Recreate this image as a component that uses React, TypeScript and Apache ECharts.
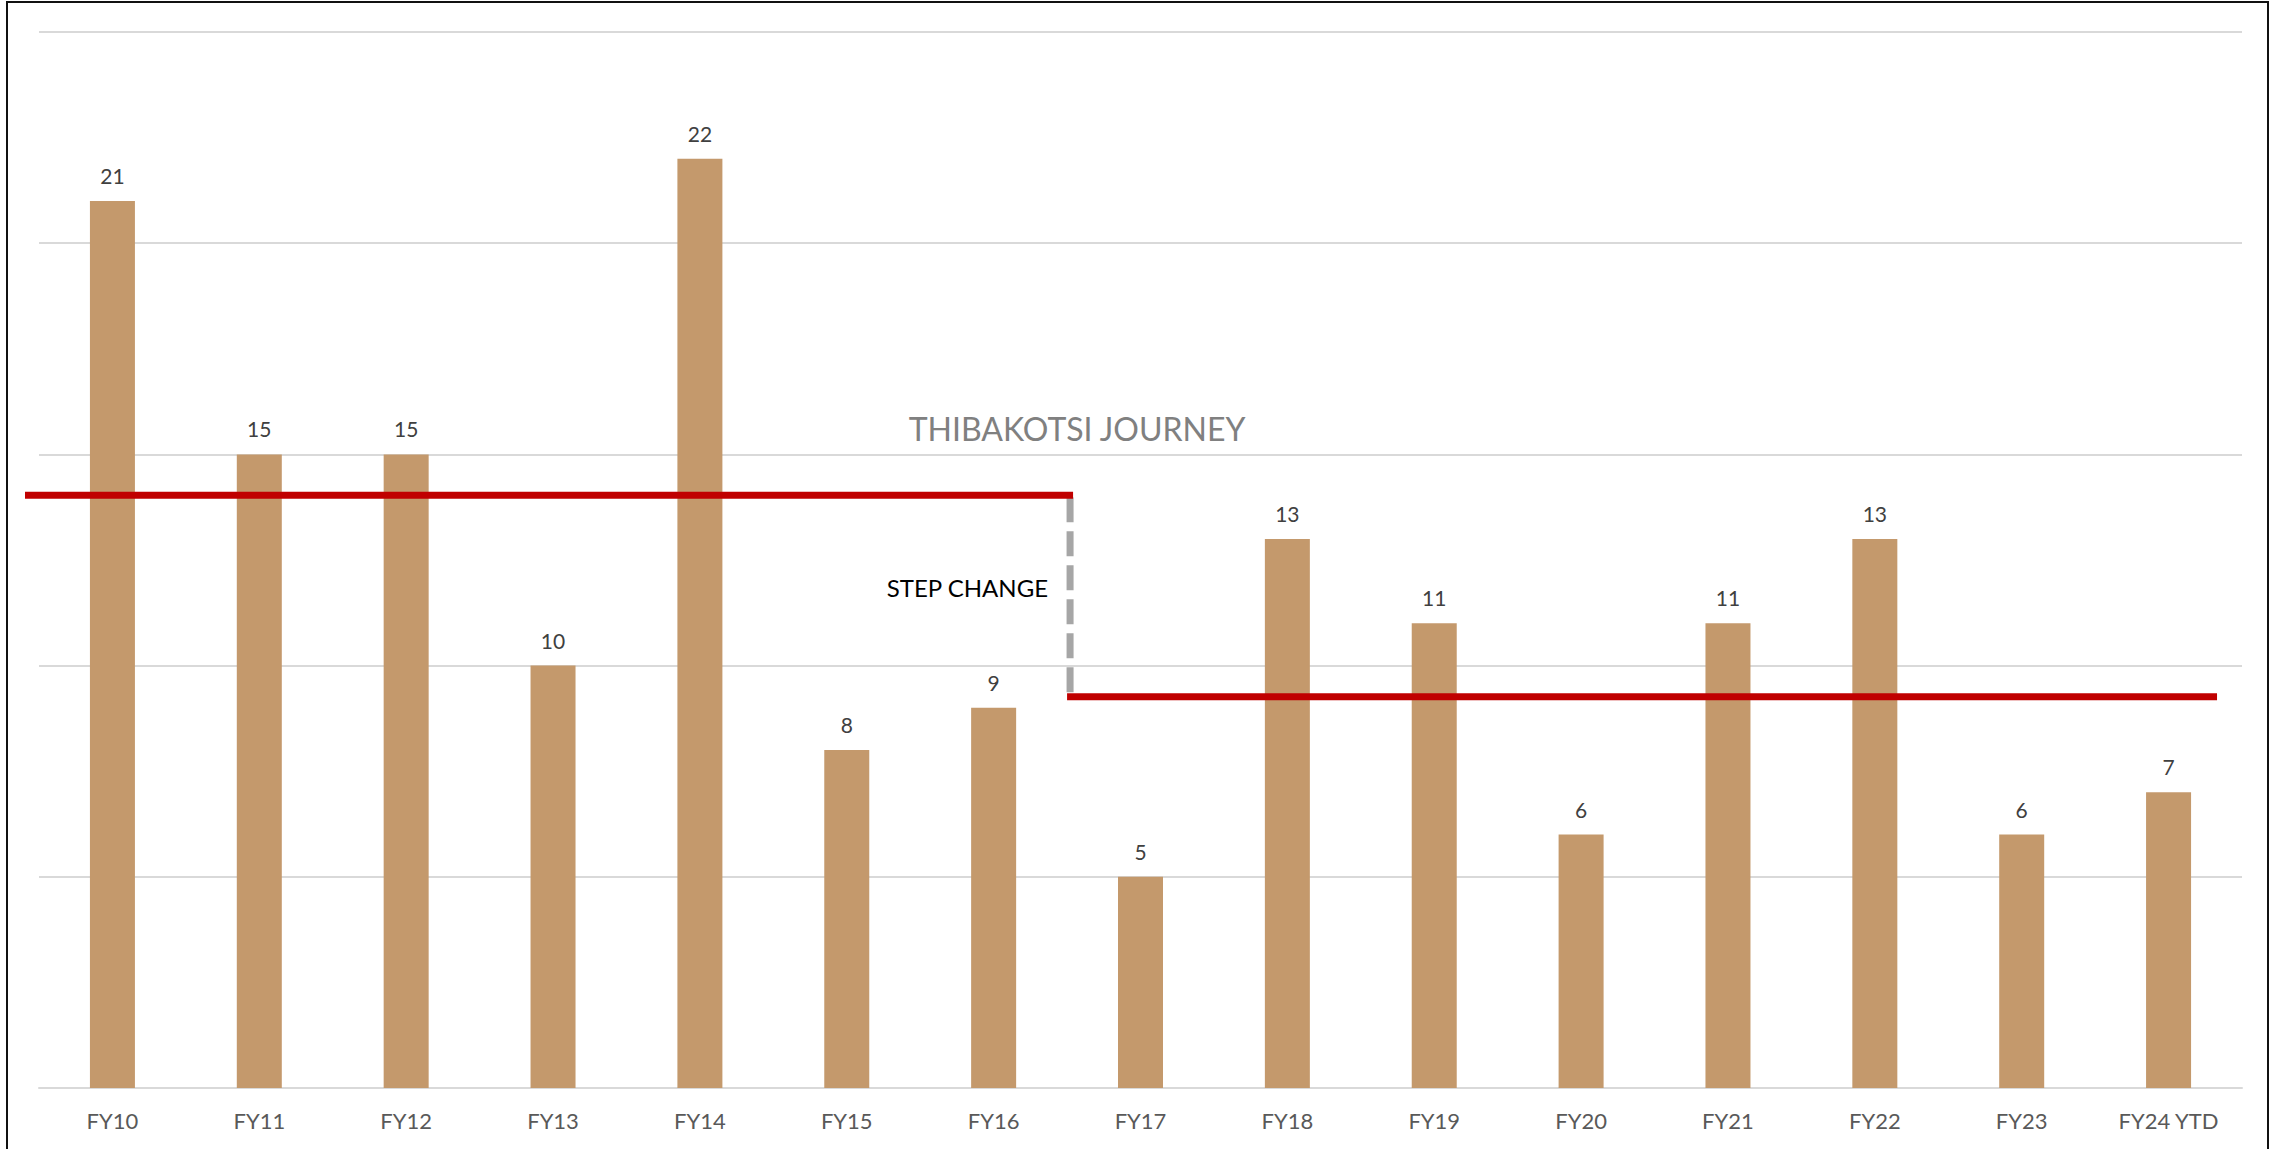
import React, { useEffect, useRef } from "react";
import * as echarts from "echarts";

// Financial years and yearly counts
const categories = [
  "FY10", "FY11", "FY12", "FY13", "FY14", "FY15", "FY16", "FY17",
  "FY18", "FY19", "FY20", "FY21", "FY22", "FY23", "FY24 YTD",
];
const counts = [21, 15, 15, 10, 22, 8, 9, 5, 13, 11, 6, 11, 13, 6, 7];

// Value axis ticks
const yMin = 0;
const yMax = 25;
const yInterval = 5;

// Level before and after the step change, and the first year after it
const stepLevels = [14.03, 9.26];
const stepStartIndex = 7;

const annotationTitle = "THIBAKOTSI JOURNEY";
const annotationStep = "STEP CHANGE";

const FONT = "Lato, 'Open Sans', sans-serif";

export default function App() {
  const ref = useRef<HTMLDivElement>(null);

  useEffect(() => {
    if (!ref.current) return;
    const chart = echarts.init(ref.current, null, { renderer: "svg" });

    chart.setOption({
      animation: false,
      backgroundColor: "#ffffff",
      grid: { left: 39, right: 33, top: 32, bottom: 61, containLabel: false },
      xAxis: {
        type: "category",
        data: categories,
        axisLine: { show: true, lineStyle: { color: "#d9d9d9", width: 2 } },
        axisTick: { show: false },
        axisLabel: {
          fontFamily: FONT,
          fontSize: 22,
          color: "#595959",
          margin: 21,
        },
      },
      yAxis: {
        type: "value",
        min: yMin,
        max: yMax,
        interval: yInterval,
        axisLine: { show: false },
        axisTick: { show: false },
        axisLabel: { show: false },
        splitLine: { lineStyle: { color: "#d9d9d9", width: 2 } },
      },
      series: [
        {
          type: "bar",
          data: counts,
          barWidth: 45,
          itemStyle: { color: "#C4996C" },
          label: {
            show: true,
            position: "top",
            distance: 15,
            fontFamily: FONT,
            fontSize: 21,
            color: "#404040",
          },
        },
      ],
    });

    // Place annotations from the axes' own scales
    const first = chart.convertToPixel({ gridIndex: 0 }, [0, 0]) as number[];
    const last = chart.convertToPixel(
      { gridIndex: 0 },
      [categories.length - 1, 0]
    ) as number[];
    const band = (last[0] - first[0]) / (categories.length - 1);
    const gridLeft = first[0] - band / 2;
    const stepX = first[0] + (stepStartIndex - 0.5) * band + 3;
    const yBefore = (chart.convertToPixel({ gridIndex: 0 }, [0, stepLevels[0]]) as number[])[1];
    const yAfter = (chart.convertToPixel({ gridIndex: 0 }, [0, stepLevels[1]]) as number[])[1];
    const lineEnd = last[0] + band * 0.33;

    chart.setOption({
      graphic: [
        {
          type: "rect",
          silent: true,
          shape: { x: 7, y: 2, width: 2261, height: 1200 },
          style: { fill: "none", stroke: "#111111", lineWidth: 2 },
        },
        {
          type: "line",
          silent: true,
          z: 10,
          shape: { x1: stepX, y1: yBefore + 2, x2: stepX, y2: yAfter },
          style: { stroke: "#A6A6A6", lineWidth: 7, lineDash: [25, 9] },
        },
        {
          type: "line",
          silent: true,
          z: 10,
          shape: { x1: gridLeft - 14, y1: yBefore, x2: stepX + 3, y2: yBefore },
          style: { stroke: "#C00000", lineWidth: 7 },
        },
        {
          type: "line",
          silent: true,
          z: 10,
          shape: { x1: stepX - 3, y1: yAfter, x2: lineEnd, y2: yAfter },
          style: { stroke: "#C00000", lineWidth: 7 },
        },
        {
          type: "text",
          silent: true,
          z: 10,
          x: stepX + 7,
          y: yBefore - 67,
          style: {
            text: annotationTitle,
            fontFamily: FONT,
            fontSize: 32,
            fill: "#808080",
            align: "center",
            verticalAlign: "middle",
            textAlign: "center",
            textVerticalAlign: "middle",
          },
        },
        {
          type: "text",
          silent: true,
          z: 10,
          x: stepX - 22,
          y: (yBefore + yAfter) / 2 - 9,
          style: {
            text: annotationStep,
            fontFamily: FONT,
            fontSize: 24,
            fill: "#000000",
            align: "right",
            verticalAlign: "middle",
            textAlign: "right",
            textVerticalAlign: "middle",
          },
        },
      ],
    });

    return () => chart.dispose();
  }, []);

  return (
    <div
      ref={ref}
      style={{ position: "fixed", left: 0, top: 0, width: 2275, height: 1149 }}
    />
  );
}
